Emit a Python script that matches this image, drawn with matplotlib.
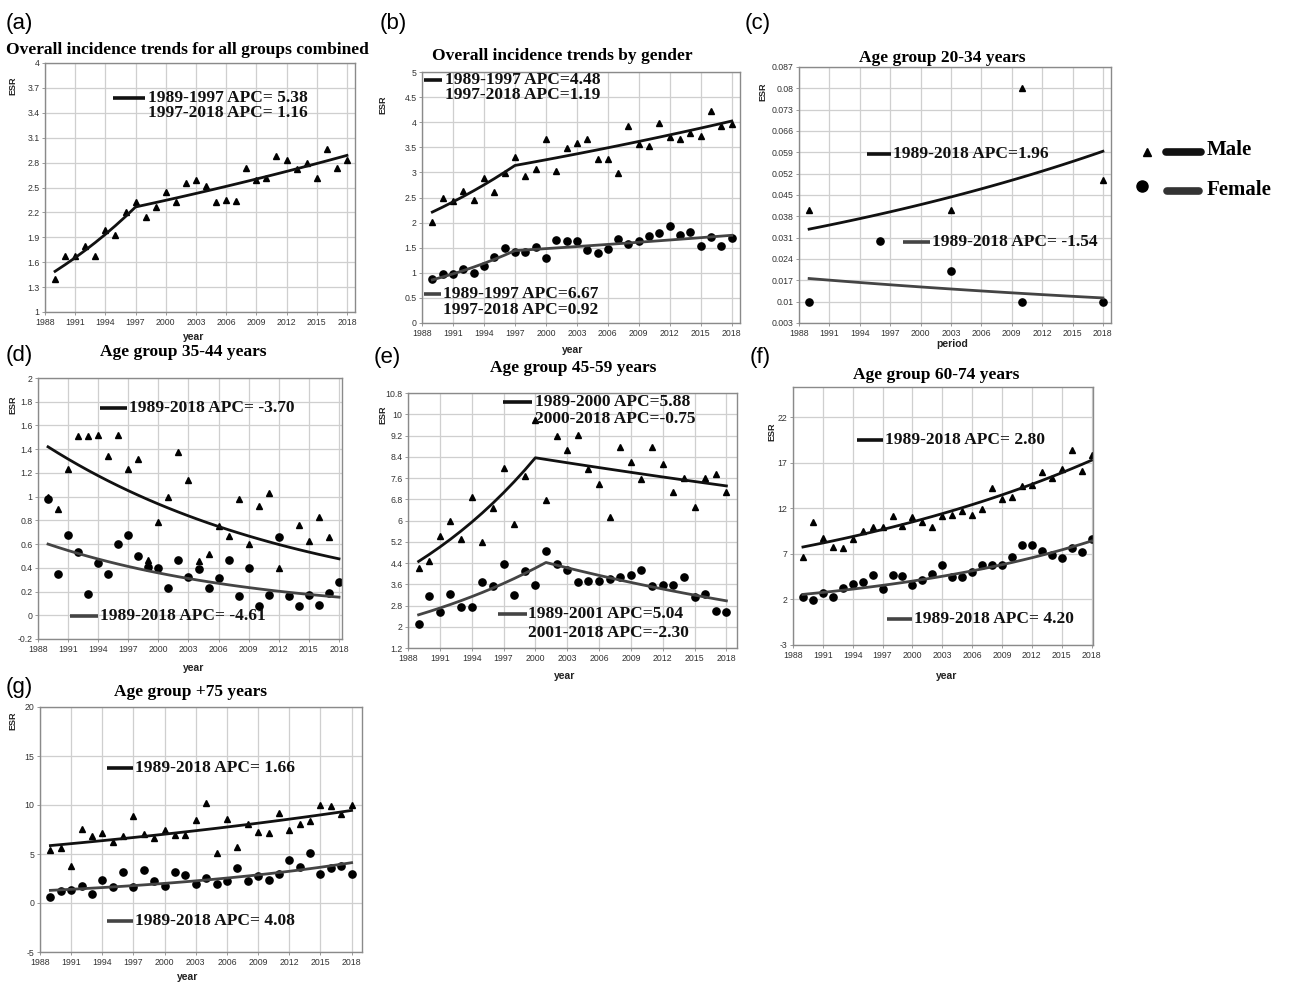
import numpy as np
import matplotlib
matplotlib.use('Agg')
import matplotlib.pyplot as plt
from matplotlib.lines import Line2D
from matplotlib.ticker import FuncFormatter, FixedLocator

# ---------------- data ----------------
years = list(range(1989, 2019))

# (a) all groups combined
a_all = [1.40, 1.67, 1.67, 1.79, 1.68, 1.99, 1.93, 2.21, 2.32, 2.15,
         2.26, 2.45, 2.32, 2.55, 2.59, 2.52, 2.32, 2.35, 2.34, 2.73,
         2.59, 2.61, 2.88, 2.83, 2.72, 2.79, 2.61, 2.96, 2.73, 2.83]
a_start = 1.49
a_segs = [(1989, 1997, 5.38), (1997, 2018, 1.16)]

# (b) by gender
b_male = [2.02, 2.50, 2.44, 2.63, 2.45, 2.89, 2.61, 2.98, 3.31, 2.93,
          3.06, 3.67, 3.03, 3.49, 3.59, 3.67, 3.27, 3.26, 2.99, 3.93,
          3.56, 3.52, 3.99, 3.71, 3.66, 3.79, 3.72, 4.23, 3.93, 3.97]
b_female = [0.87, 0.97, 0.97, 1.07, 0.99, 1.14, 1.32, 1.49, 1.41, 1.41,
            1.52, 1.29, 1.66, 1.64, 1.64, 1.45, 1.39, 1.48, 1.68, 1.57,
            1.64, 1.73, 1.79, 1.94, 1.75, 1.81, 1.54, 1.71, 1.54, 1.69]
b_male_start, b_female_start = 2.21, 0.86
b_male_segs = [(1989, 1997, 4.48), (1997, 2018, 1.19)]
b_female_segs = [(1989, 1997, 6.67), (1997, 2018, 0.92)]

# (c) 20-34 years
c_male_years = [1989, 2003, 2010, 2018]
c_male = [0.04, 0.04, 0.08, 0.05]
c_female_years = [1989, 1996, 2003, 2010, 2018]
c_female = [0.01, 0.03, 0.02, 0.01, 0.01]
c_male_start, c_female_start = 0.0338, 0.0176
c_male_segs = [(1989, 2018, 1.96)]
c_female_segs = [(1989, 2018, -1.54)]

# (d) 35-44 years
d_male = [1.00, 0.90, 1.23, 1.51, 1.51, 1.52, 1.34, 1.52, 1.23, 1.32,
          0.47, 0.79, 1.00, 1.38, 1.14, 0.46, 0.52, 0.75, 0.67, 0.98,
          0.60, 0.92, 1.03, 0.40, 0.17, 0.76, 0.63, 0.83, 0.66, np.nan]
d_female = [0.98, 0.35, 0.68, 0.53, 0.18, 0.44, 0.35, 0.60, 0.68, 0.50,
            0.41, 0.40, 0.23, 0.47, 0.32, 0.39, 0.23, 0.31, 0.47, 0.16,
            0.40, 0.08, 0.17, 0.66, 0.16, 0.08, 0.17, 0.09, 0.19, 0.28]
d_male_start, d_female_start = 1.42, 0.60
d_male_segs = [(1989, 2018, -3.70)]
d_female_segs = [(1989, 2018, -4.61)]

# (e) 45-59 years
e_male = [4.20, 4.49, 5.40, 6.00, 5.30, 6.90, 5.18, 6.48, 7.98, 5.86,
          7.69, 9.80, 6.79, 9.19, 8.65, 9.23, 7.94, 7.38, 6.13, 8.75,
          8.19, 7.56, 8.75, 8.13, 7.06, 7.59, 6.50, 7.59, 7.75, 7.06]
e_female = [2.11, 3.14, 2.55, 3.24, 2.74, 2.76, 3.68, 3.53, 4.36, 3.18,
            4.11, 3.58, 4.86, 4.36, 4.14, 3.68, 3.74, 3.74, 3.80, 3.89,
            3.93, 4.14, 3.55, 3.59, 3.59, 3.86, 3.11, 3.24, 2.61, 2.55]
e_male_start, e_female_start = 4.46, 2.45
e_male_segs = [(1989, 2000, 5.88), (2000, 2018, -0.75)]
e_female_segs = [(1989, 2001, 5.04), (2001, 2018, -2.30)]

# (f) 60-74 years
f_male = [6.65, 10.47, 8.73, 7.71, 7.64, 8.65, 9.45, 9.93, 9.93, 11.20,
          10.00, 11.02, 10.47, 9.89, 11.20, 11.27, 11.75, 11.27, 11.89, 14.18,
          13.02, 13.27, 14.47, 14.55, 16.00, 15.35, 16.29, 18.36, 16.07, 17.82]
f_female = [2.29, 1.93, 2.73, 2.25, 3.20, 3.64, 3.89, 4.65, 3.16, 4.73,
            4.55, 3.56, 4.18, 4.80, 5.82, 4.44, 4.44, 5.02, 5.82, 5.75,
            5.82, 6.62, 7.93, 8.00, 7.35, 6.84, 6.55, 7.64, 7.20, 8.65]
f_male_start, f_female_start = 7.75, 2.55
f_male_segs = [(1989, 2018, 2.80)]
f_female_segs = [(1989, 2018, 4.20)]

# (g) +75 years
g_male = [5.37, 5.65, 3.74, 7.59, 6.84, 7.18, 6.22, 6.84, 8.88, 7.07,
          6.63, 7.48, 6.90, 6.97, 8.44, 10.24, 5.10, 8.60, 5.71, 8.10,
          7.24, 7.14, 9.18, 7.41, 8.03, 8.37, 9.97, 9.86, 9.12, 9.97]
g_female = [0.61, 1.22, 1.29, 1.73, 0.95, 2.38, 1.63, 3.16, 1.63, 3.40,
            2.24, 1.70, 3.16, 2.89, 1.97, 2.59, 1.97, 2.24, 3.61, 2.24,
            2.72, 2.38, 2.93, 4.35, 3.67, 5.10, 2.93, 3.61, 3.78, 2.93]
g_male_start, g_female_start = 5.86, 1.29
g_male_segs = [(1989, 2018, 1.66)]
g_female_segs = [(1989, 2018, 4.08)]

x_ticks = list(range(1988, 2019, 3))

# ---------------- helpers ----------------
W, H = 1294, 982
fig = plt.figure(figsize=(W / 100, H / 100), dpi=100)

SERIF = ['Liberation Serif', 'DejaVu Serif']
SANS = ['Liberation Sans', 'DejaVu Sans']
MALE_C = '#111111'
FEMALE_C = '#444444'


def trend(yrs, start, segs):
    out = []
    for yr in yrs:
        v = start
        for (y0, y1, apc) in segs:
            n = min(max(yr - y0, 0), y1 - y0)
            v *= (1 + apc / 100.0) ** n
        out.append(v)
    return out


def make_ax(l, t, r, b, xlim, yticks, ylim):
    ax = fig.add_axes([l / W, 1 - b / H, (r - l) / W, (b - t) / H])
    ax.set_xlim(*xlim)
    ax.set_ylim(*ylim)
    ax.xaxis.set_major_locator(FixedLocator(x_ticks))
    ax.yaxis.set_major_locator(FixedLocator(yticks))
    ax.yaxis.set_major_formatter(FuncFormatter(lambda v, _: f'{round(v, 4):g}'))
    ax.grid(True, color='#cfcfcf', lw=0.9)
    ax.set_axisbelow(True)
    for s in ax.spines.values():
        s.set_color('#8a8a8a')
        s.set_linewidth(1.0)
    ax.tick_params(length=2, width=0.6, color='#8a8a8a', labelsize=6.3,
                   labelcolor='#333333', pad=2)
    for lab in ax.get_xticklabels() + ax.get_yticklabels():
        lab.set_family(SANS)
    return ax


def ftext(x, y, s, **kw):
    fig.text(x / W, 1 - y / H, s, **kw)


def key(x0, x1, y, color, lw=2.6, cap='butt'):
    ln = Line2D([x0 / W, x1 / W], [1 - y / H, 1 - y / H],
                transform=fig.transFigure, color=color, lw=lw,
                solid_capstyle=cap)
    fig.add_artist(ln)
    return ln


def apc_note(x0, x1, xt, ys, lines, color, size=12.5):
    key(x0, x1, ys[0], color)
    for yy, s in zip(ys, lines):
        ftext(xt, yy, s, family=SERIF, weight='bold', size=size,
              ha='left', va='center', color='#111111')


def title(x, y, s):
    ftext(x, y, s, family=SERIF, weight='bold', size=12.5, ha='center', va='center')


def plabel(x, y, s):
    ftext(x, y, s, family=SANS, size=16, ha='left', va='center')


def ylab(x, y):
    ftext(x, y, 'ESR', family=SANS, weight='bold', size=6.5, rotation=90,
          ha='center', va='center', color='#222222')


def xlab(x, y, s='year'):
    ftext(x, y, s, family=SANS, weight='bold', size=7.5, ha='center',
          va='center', color='#222222')


def pts(ax, xs, ys, kind):
    if kind == 'm':
        ax.plot(xs, ys, linestyle='none', marker='^', ms=4.8, color='black')
    else:
        ax.plot(xs, ys, linestyle='none', marker='o', ms=5.2, color='black')


def tline(ax, start, segs, color, lw=2.0):
    ax.plot(years, trend(years, start, segs), color=color, lw=lw)


# ---------------- panel (a) ----------------
ax = make_ax(45, 63, 355, 312, (1988.0, 2018.8), np.round(np.arange(1, 4.01, 0.3), 2), (1, 4))
pts(ax, years, a_all, 'm')
tline(ax, a_start, a_segs, MALE_C)
plabel(6, 24, '(a)')
title(187, 50, 'Overall incidence trends for all groups combined')
ylab(13, 86)
xlab(194, 337)
apc_note(113, 145, 148, [98, 113], ['1989-1997 APC= 5.38', '1997-2018 APC= 1.16'], MALE_C)

# ---------------- panel (b) ----------------
ax = make_ax(422, 72, 740, 323, (1988.0, 2018.8), np.round(np.arange(0, 5.01, 0.5), 2), (0, 5))
pts(ax, years, b_male, 'm')
pts(ax, years, b_female, 'f')
tline(ax, b_male_start, b_male_segs, MALE_C)
tline(ax, b_female_start, b_female_segs, FEMALE_C)
plabel(380, 24, '(b)')
title(562, 56, 'Overall incidence trends by gender')
ylab(383, 105)
xlab(573, 350)
apc_note(424, 442, 445, [80, 95], ['1989-1997 APC=4.48', '1997-2018 APC=1.19'], MALE_C)
apc_note(424, 441, 443, [294, 310], ['1989-1997 APC=6.67', '1997-2018 APC=0.92'], FEMALE_C)

# ---------------- panel (c) ----------------
ax = make_ax(799, 67, 1111, 323, (1988.0, 2018.8),
             np.round(np.arange(0.003, 0.0871, 0.007), 3), (0.003, 0.087))
pts(ax, c_male_years, c_male, 'm')
pts(ax, c_female_years, c_female, 'f')
tline(ax, c_male_start, c_male_segs, MALE_C)
tline(ax, c_female_start, c_female_segs, FEMALE_C)
plabel(745, 24, '(c)')
title(942, 58, 'Age group 20-34 years')
ylab(763, 92)
xlab(952, 344, 'period')
apc_note(867, 891, 893, [154], ['1989-2018 APC=1.96'], MALE_C)
apc_note(903, 930, 932, [242], ['1989-2018 APC= -1.54'], FEMALE_C)

# ---------------- panel (d) ----------------
ax = make_ax(38, 378, 342, 639, (1988, 2018.3),
             np.round(np.arange(-0.2, 2.01, 0.2), 2), (-0.2, 2))
pts(ax, years, d_male, 'm')
pts(ax, years, d_female, 'f')
tline(ax, d_male_start, d_male_segs, MALE_C)
tline(ax, d_female_start, d_female_segs, FEMALE_C)
plabel(6, 356, '(d)')
title(183, 352, 'Age group 35-44 years')
ylab(13, 405)
xlab(194, 668)
apc_note(100, 127, 129, [408], ['1989-2018 APC= -3.70'], MALE_C)
apc_note(70, 98, 100, [616], ['1989-2018 APC= -4.61'], FEMALE_C)

# ---------------- panel (e) ----------------
ax = make_ax(408, 393, 737, 648, (1988.0, 2019.0),
             np.round(np.arange(1.2, 10.81, 0.8), 2), (1.2, 10.8))
pts(ax, years, e_male, 'm')
pts(ax, years, e_female, 'f')
tline(ax, e_male_start, e_male_segs, MALE_C)
tline(ax, e_female_start, e_female_segs, FEMALE_C)
plabel(374, 358, '(e)')
title(573, 368, 'Age group 45-59 years')
ylab(383, 415)
xlab(565, 676)
apc_note(503, 532, 535, [402, 419], ['1989-2000 APC=5.88', '2000-2018 APC=-0.75'], MALE_C)
apc_note(498, 527, 528, [614, 633], ['1989-2001 APC=5.04', '2001-2018 APC=-2.30'], FEMALE_C)

# ---------------- panel (f) ----------------
ax = make_ax(793, 387, 1093, 645, (1988.0, 2018.15), list(range(-3, 23, 5)), (-3, 25.3))
pts(ax, years, f_male, 'm')
pts(ax, years, f_female, 'f')
tline(ax, f_male_start, f_male_segs, MALE_C)
tline(ax, f_female_start, f_female_segs, FEMALE_C)
plabel(750, 358, '(f)')
title(936, 375, 'Age group 60-74 years')
ylab(772, 432)
xlab(947, 676)
apc_note(857, 883, 885, [440], ['1989-2018 APC= 2.80'], MALE_C)
apc_note(887, 912, 914, [619], ['1989-2018 APC= 4.20'], FEMALE_C)

# ---------------- panel (g) ----------------
ax = make_ax(40, 707, 362, 952, (1988.0, 2019.0), list(range(-5, 21, 5)), (-5, 20))
pts(ax, years, g_male, 'm')
pts(ax, years, g_female, 'f')
tline(ax, g_male_start, g_male_segs, MALE_C)
tline(ax, g_female_start, g_female_segs, FEMALE_C)
plabel(6, 688, '(g)')
title(190, 692, 'Age group +75 years')
ylab(13, 721)
xlab(188, 977)
apc_note(107, 133, 135, [768], ['1989-2018 APC= 1.66'], MALE_C)
apc_note(107, 133, 135, [921], ['1989-2018 APC= 4.08'], FEMALE_C)

# ---------------- shared legend ----------------
fig.add_artist(Line2D([1147 / W], [1 - 152 / H], transform=fig.transFigure,
                      marker='^', ms=6, color='black', linestyle='none'))
fig.add_artist(Line2D([1142 / W], [1 - 186 / H], transform=fig.transFigure,
                      marker='o', ms=8, color='black', linestyle='none'))
key(1166, 1201, 152, MALE_C, lw=5.5, cap='round')
key(1167, 1199, 191, '#333333', lw=5.5, cap='round')
ftext(1207, 150, 'Male', family=SERIF, weight='bold', size=15, ha='left', va='center')
ftext(1207, 190, 'Female', family=SERIF, weight='bold', size=15, ha='left', va='center')

fig.savefig('out.png', dpi=100, facecolor='white')
